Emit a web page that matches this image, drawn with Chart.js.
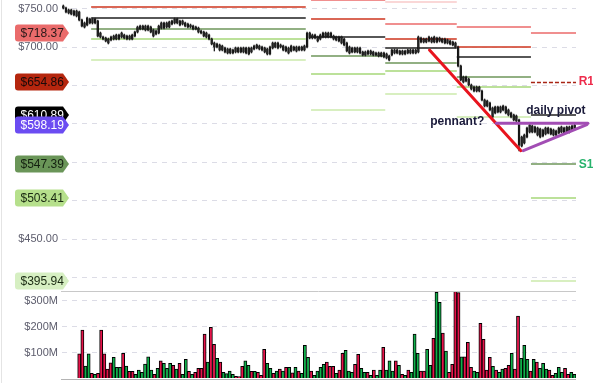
<!DOCTYPE html>
<html><head><meta charset="utf-8">
<script src="https://cdn.jsdelivr.net/npm/chart.js@4.4.0/dist/chart.umd.min.js"></script>
<style>
html,body{margin:0;padding:0;background:#fff;}
#wrap{position:relative;width:593px;height:383px;overflow:hidden;background:#fff;}
#pc{position:absolute;left:0;top:0;}
#vc{position:absolute;left:0;top:291px;}
#edge{position:absolute;left:1px;top:0;width:1px;height:383px;background:#e4e4e4;}
</style></head><body>
<div id="wrap"><canvas id="pc" width="593" height="291"></canvas><canvas id="vc" width="593" height="92"></canvas><div id="edge"></div></div>
<script>
// ---------- price candles ----------
const opens = [
753.4,750.8,748.2,748.2,746.9,746.9,745.6,735.2,731.3,728.6,
736.5,731.3,736.5,733.9,718.2,713.0,711.7,710.4,709.1,710.4,
710.4,715.6,713.0,715.6,714.3,710.4,715.6,714.3,719.5,723.4,
727.3,722.1,727.3,726.0,722.1,716.9,718.2,724.7,731.3,726.0,
726.0,729.9,731.3,736.5,733.9,733.9,731.3,729.9,728.6,727.3,
726.0,724.7,720.8,719.5,718.2,715.6,710.4,705.2,700.0,702.6,
701.3,698.7,697.4,692.2,696.1,693.5,698.7,693.5,698.7,698.7,
690.9,693.5,697.4,698.7,701.3,700.0,698.7,697.4,690.9,698.7,
705.2,698.7,702.6,701.3,700.0,698.7,694.8,700.0,694.8,700.0,
696.1,696.1,700.0,718.2,711.7,715.6,713.0,710.4,713.0,718.2,
713.0,718.2,714.3,713.0,713.0,713.0,710.4,705.2,700.0,693.5,
698.7,693.5,698.7,693.5,689.6,694.8,690.9,693.5,692.2,692.2,
688.3,692.2,690.9,688.3,689.6,696.1,692.2,694.8,690.9,694.8,
692.2,696.1,692.2,696.1,693.5,711.7,706.5,710.4,707.8,711.7,
706.5,711.7,707.8,710.4,710.4,709.1,707.8,706.5,705.2,700.0,
675.3,654.4,660.9,658.3,650.5,647.9,642.7,647.9,642.7,631.0,
623.2,627.1,620.6,614.1,615.4,621.9,618.0,621.9,618.0,614.1,
611.5,610.2,605.0,571.1,575.0,582.8,589.3,597.1,589.3,594.5,
593.2,584.1,586.7,594.5,593.2,591.9,585.4,588.0,589.3,594.5,
589.3,595.8,591.9,593.2];
const closes = [
750.8,745.6,744.3,743.0,741.7,740.4,735.2,727.3,726.0,737.8,
731.3,736.5,731.3,714.3,713.0,710.4,707.8,705.2,713.0,714.3,
715.6,710.4,718.2,711.7,710.4,714.3,710.4,719.5,726.0,727.3,
723.4,727.3,722.1,719.5,714.3,720.8,727.3,731.3,724.7,731.3,
732.6,733.9,736.5,731.3,728.6,729.9,727.3,726.0,726.0,723.4,
723.4,719.5,718.2,714.3,713.0,710.4,703.9,700.0,703.9,696.1,
696.1,693.5,692.2,697.4,692.2,698.7,693.5,698.7,693.5,692.2,
698.7,698.7,701.3,702.6,697.4,696.1,693.5,690.9,700.0,705.2,
700.0,705.2,700.0,696.1,694.8,692.2,701.3,696.1,700.0,696.1,
700.0,701.3,718.2,711.7,715.6,711.7,707.8,715.6,718.2,713.0,
718.2,713.0,710.4,709.1,707.8,705.2,702.6,694.8,692.2,698.7,
693.5,698.7,692.2,689.6,693.5,690.9,694.8,689.6,689.6,688.3,
692.2,687.0,685.7,683.1,696.1,692.2,696.1,690.9,694.8,690.9,
696.1,692.2,696.1,692.2,713.0,706.5,710.4,706.5,713.0,706.5,
713.0,706.5,711.7,706.5,705.2,705.2,703.9,702.6,700.0,675.3,
657.0,660.9,655.7,650.5,645.3,642.7,647.9,642.7,631.0,623.2,
629.7,618.0,608.9,621.9,621.9,615.4,623.2,614.1,611.5,608.9,
605.0,603.7,572.4,582.8,585.4,594.5,598.4,589.3,595.8,585.4,
582.8,591.9,594.5,588.0,586.7,585.4,590.6,594.5,595.8,588.0,
595.8,589.3,597.1,598.19];
const highs = [
754.7,752.1,749.5,749.5,748.2,748.2,746.9,736.5,732.6,739.1,
737.8,737.8,737.8,735.2,719.5,714.3,713.0,711.7,714.3,715.6,
716.9,716.9,719.5,716.9,715.6,715.6,716.9,720.8,727.3,728.6,
728.6,728.6,728.6,727.3,723.4,722.1,728.6,732.6,732.6,732.6,
733.9,735.2,737.8,737.8,735.2,735.2,732.6,731.3,729.9,728.6,
727.3,726.0,722.1,720.8,719.5,716.9,711.7,706.5,705.2,703.9,
702.6,700.0,698.7,698.7,697.4,700.0,700.0,700.0,700.0,700.0,
700.0,700.0,702.6,703.9,702.6,701.3,700.0,698.7,701.3,706.5,
706.5,706.5,703.9,702.6,701.3,700.0,702.6,701.3,701.3,701.3,
701.3,702.6,719.5,719.5,716.9,716.9,714.3,716.9,719.5,719.5,
719.5,719.5,715.6,714.3,714.3,714.3,711.7,706.5,701.3,700.0,
700.0,700.0,700.0,694.8,694.8,696.1,696.1,694.8,693.5,693.5,
693.5,693.5,692.2,689.6,697.4,697.4,697.4,696.1,696.1,696.1,
697.4,697.4,697.4,697.4,714.3,713.0,711.7,711.7,714.3,713.0,
714.3,713.0,713.0,711.7,711.7,710.4,709.1,707.8,706.5,701.3,
676.6,662.2,662.2,659.6,651.8,649.2,649.2,649.2,644.0,632.3,
631.0,628.4,621.9,623.2,623.2,623.2,624.5,623.2,619.3,615.4,
612.8,611.5,606.3,584.1,586.7,595.8,599.8,598.4,597.1,595.8,
594.5,593.2,595.8,595.8,594.5,593.2,591.9,595.8,597.1,595.8,
597.1,597.1,598.4,599.8];
const lows = [
749.5,744.3,743.0,741.7,740.4,739.1,733.9,726.0,724.7,727.3,
729.9,729.9,729.9,713.0,711.7,709.1,706.5,703.9,707.8,709.1,
709.1,709.1,711.7,710.4,709.1,709.1,709.1,713.0,718.2,722.1,
722.1,720.8,720.8,718.2,713.0,715.6,716.9,723.4,723.4,724.7,
724.7,728.6,729.9,729.9,727.3,728.6,726.0,724.7,724.7,722.1,
722.1,718.2,716.9,713.0,711.7,709.1,702.6,694.8,698.7,694.8,
694.8,692.2,690.9,690.9,690.9,692.2,692.2,692.2,692.2,690.9,
689.6,692.2,696.1,697.4,696.1,694.8,692.2,689.6,689.6,697.4,
698.7,697.4,698.7,694.8,693.5,690.9,693.5,694.8,693.5,694.8,
694.8,694.8,698.7,710.4,710.4,710.4,706.5,709.1,711.7,711.7,
711.7,711.7,709.1,707.8,706.5,703.9,701.3,693.5,690.9,692.2,
692.2,692.2,690.9,688.3,688.3,689.6,689.6,688.3,688.3,687.0,
687.0,685.7,684.4,681.8,688.3,690.9,690.9,689.6,689.6,689.6,
690.9,690.9,690.9,690.9,692.2,705.2,705.2,705.2,706.5,705.2,
705.2,705.2,706.5,705.2,703.9,703.9,702.6,701.3,698.7,674.0,
655.7,653.1,654.4,649.2,644.0,641.4,641.4,641.4,629.7,621.9,
621.9,616.7,607.6,612.8,614.1,614.1,616.7,612.8,610.2,607.6,
603.7,602.4,564.6,569.8,573.7,581.5,588.0,588.0,588.0,584.1,
581.5,582.8,585.4,586.7,585.4,584.1,584.1,586.7,588.0,586.7,
588.0,588.0,590.6,591.9];

// ---------- pivot levels per session (candle index ranges) ----------
const segStart = [11, 94, 122, 149, 177];
const segEnd   = [91, 121, 148, 176, 193];
const levR3 = [null, null, 759.0, null, null];
const levR2 = [null, 761.0, 729.6, 726.4, 718.37];
const levR1 = [751.7, 736.5, 710.0, 700.4, 654.86];
const levP  = [738.2, 713.0, 699.0, 687.4, 610.89];
const levS1 = [723.4, 688.7, 679.6, 661.3, 547.39];
const levS2 = [710.4, 665.2, 668.8, 648.3, 503.41];
const levS3 = [682.7, 617.6, 638.4, 608.9, 395.94];

// ---------- drawn annotations (candle index, price) ----------
const redTrend   = [[138.2, 696.1], [172.7, 565.0]];
const pennantTop = [[163.4, 600.7], [198.0, 600.7]];
const pennantBot = [[173.6, 565.0], [197.6, 599.0]];
const notes = [
  {text: 'pennant?', x: 138.5, y: 598.4},
  {text: 'daily pivot', x: 174.7, y: 613.4}
];

// ---------- axis ticks ----------
const priceTicksHidden = [400, 500, 550, 600, 650];

// ---------- volume (millions $) ----------
const volumes = [null,null,null,null,null,
95,187,48,95,20,16,20,187,95,36,61,82,43,43,97,48,28,28,16,33,24,56,84,33,16,39,68,59,39,59,51,36,59,16,74,28,16,
24,39,39,172,63,198,132,78,63,24,19,29,16,8,7,47,68,51,28,28,24,12,113,59,39,20,29,36,29,43,43,22,43,29,20,128,82,29,12,29,43,55,63,47,47,20,33,97,109,29,24,55,93,39,24,24,12,33,12,33,120,33,
68,29,68,51,16,12,33,24,172,97,29,29,113,51,155,333,294,175,106,24,55,338,332,84,84,140,43,29,24,213,151,33,82,47,33,24,36,39,51,97,36,241,78,128,74,29,74,63,39,59,36,33,12,20,43,24,39,16,24,16];
const volSide = ['','','','','',
'd','d','u','u','d','u','d','d','d','d','d','u','u','u','d','u','d','d','u','u','u','u','u','u','d','u','d','u','u','u','d','u','d','u','u','d','u',
'd','d','d','d','u','d','d','u','d','u','u','u','u','d','d','d','u','u','d','u','d','d','d','u','u','d','u','d','u','d','u','d','u','d','u','u','u','d','u','u','u','u','d','d','d','u','d','d','u','u','u','d','d','u','u','d','u','d','u','u','d','u',
'u','u','d','u','d','u','d','u','u','u','d','d','u','u','d','u','u','d','u','d','d','d','d','u','d','d','d','u','u','d','d','d','d','u','d','u','u','d','d','u','d','d','u','u','u','d','u','d','u','u','u','d','d','u','u','u','d','d','u','u'];

const FONT = '"Liberation Sans", Arial, sans-serif';

const levelDefs = [
  {vals: levR3, color: 'rgba(240,140,140,0.35)'},
  {vals: levR2, color: 'rgba(235,105,105,0.75)'},
  {vals: levR1, color: 'rgba(212,76,56,0.85)', dashLast: true},
  {vals: levP,  color: 'rgba(45,45,45,0.8)'},
  {vals: levS1, color: 'rgba(110,150,90,0.75)'},
  {vals: levS2, color: 'rgba(165,215,120,0.75)'},
  {vals: levS3, color: 'rgba(190,228,150,0.6)'}
];

const levelsPlugin = {
  id: 'levels',
  beforeDatasetsDraw(chart) {
    const {ctx, scales: {x, y}} = chart;
    const half = (x.getPixelForValue(1) - x.getPixelForValue(0)) / 2;
    ctx.save();
    levelDefs.forEach(def => {
      def.vals.forEach((v, s) => {
        if (v == null) return;
        const x0 = x.getPixelForValue(segStart[s]) - half;
        const x1 = x.getPixelForValue(segEnd[s]) + half;
        const py = Math.round(y.getPixelForValue(v));
        ctx.beginPath();
        if (def.dashLast && s === segStart.length - 1) {
          ctx.setLineDash([4, 2]); ctx.lineWidth = 1.3; ctx.strokeStyle = '#a82414';
          ctx.moveTo(x0, py + 0.5); ctx.lineTo(x1, py + 0.5);
        } else {
          ctx.setLineDash([]); ctx.lineWidth = 2; ctx.strokeStyle = def.color;
          ctx.moveTo(x0, py); ctx.lineTo(x1, py);
        }
        ctx.stroke();
      });
    });
    ctx.restore();
  }
};

function pt(chart, p) {
  return [chart.scales.x.getPixelForValue(p[0]), chart.scales.y.getPixelForValue(p[1])];
}

const annotPlugin = {
  id: 'annot',
  afterDatasetsDraw(chart) {
    const {ctx, scales: {x, y}} = chart;
    ctx.save();
    ctx.lineCap = 'round';
    let a = pt(chart, redTrend[0]), b = pt(chart, redTrend[1]);
    ctx.strokeStyle = '#e8141e'; ctx.lineWidth = 3;
    ctx.beginPath(); ctx.moveTo(a[0], a[1]); ctx.lineTo(b[0], b[1]); ctx.stroke();
    ctx.strokeStyle = '#a24db4'; ctx.lineWidth = 3;
    a = pt(chart, pennantTop[0]); b = pt(chart, pennantTop[1]);
    ctx.beginPath(); ctx.moveTo(a[0], a[1]); ctx.lineTo(b[0], b[1]); ctx.stroke();
    a = pt(chart, pennantBot[0]); b = pt(chart, pennantBot[1]);
    ctx.beginPath(); ctx.moveTo(a[0], a[1]); ctx.lineTo(b[0], b[1]); ctx.stroke();
    ctx.font = 'bold 12px ' + FONT;
    ctx.fillStyle = '#1a1a3a';
    ctx.textBaseline = 'alphabetic'; ctx.textAlign = 'left';
    notes.forEach(n => ctx.fillText(n.text, x.getPixelForValue(n.x), y.getPixelForValue(n.y)));
    const last = segStart.length - 1;
    const lx = x.getPixelForValue(segEnd[last]) + 4;
    ctx.textBaseline = 'middle';
    ctx.fillStyle = '#ee2c4c';
    ctx.fillText('R1', lx, y.getPixelForValue(levR1[last]));
    ctx.fillStyle = '#27b36c';
    ctx.fillText('S1', lx, y.getPixelForValue(levS1[last]));
    ctx.restore();
  }
};

function drawTag(ctx, yp, text, bg, fg) {
  const l = 15, r = 63, tip = 69, h = 17, t = yp - h / 2;
  ctx.fillStyle = bg;
  ctx.beginPath();
  ctx.moveTo(l + 3, t);
  ctx.lineTo(r, t);
  ctx.lineTo(tip, yp);
  ctx.lineTo(r, t + h);
  ctx.lineTo(l + 3, t + h);
  ctx.quadraticCurveTo(l, t + h, l, t + h - 3);
  ctx.lineTo(l, t + 3);
  ctx.quadraticCurveTo(l, t, l + 3, t);
  ctx.closePath();
  ctx.fill();
  ctx.fillStyle = fg;
  ctx.font = '12px ' + FONT;
  ctx.textAlign = 'left'; ctx.textBaseline = 'middle';
  ctx.fillText(text, 20.5, yp + 0.5);
}

const tagPlugin = {
  id: 'tags',
  afterDraw(chart) {
    const {ctx, scales: {y}} = chart;
    const last = segStart.length - 1;
    const cur = closes[closes.length - 1];
    const fmt = v => '$' + v.toFixed(2);
    ctx.save();
    const items = [
      [levR2[last], '#ea6b6b', '#2a1a1a'],
      [levR1[last], '#b5260e', '#1a0a0a'],
      [levP[last], '#000000', '#ffffff'],
      [levS1[last], '#6a9558', '#142010'],
      [levS2[last], '#b6e08c', '#1a2a12'],
      [levS3[last], '#d6efc2', '#1a2a12'],
      [cur, '#6b4cf2', '#ffffff']
    ];
    items.forEach(it => drawTag(ctx, Math.round(y.getPixelForValue(it[0])), fmt(it[0]), it[1], it[2]));
    ctx.restore();
  }
};

new Chart(document.getElementById('pc'), {
  type: 'bar',
  data: {
    labels: opens.map((_, i) => String(i)),
    datasets: [
      {data: lows.map((l, i) => [l, highs[i]]), backgroundColor: '#222', barThickness: 0.7, grouped: false},
      {data: opens.map((o, i) => [o, closes[i]]), backgroundColor: '#000', barThickness: 1.6, grouped: false}
    ]
  },
  options: {
    responsive: false, animation: false, devicePixelRatio: 1,
    layout: {padding: {left: 0, right: 17, top: 0, bottom: 0}},
    plugins: {legend: {display: false}, tooltip: {enabled: false}},
    scales: {
      x: {display: false, offset: true},
      y: {
        min: 382.3, max: 761.2,
        afterFit(s) { s.width = 62; s.paddingTop = 0; s.paddingBottom = 0; },
        border: {display: false, dash: [5, 5]},
        grid: {color: '#dcdce6', drawTicks: false, lineWidth: 1},
        ticks: {
          stepSize: 50, includeBounds: false, padding: 4, color: '#5c5c6c',
          font: {family: FONT, size: 11},
          callback: v => priceTicksHidden.includes(v) ? '' : '$' + v.toFixed(2)
        }
      }
    }
  },
  plugins: [levelsPlugin, annotPlugin, tagPlugin]
});

const volFramePlugin = {
  id: 'volFrame',
  afterDraw(chart) {
    const {ctx, chartArea: ca} = chart;
    ctx.save();
    ctx.strokeStyle = '#c8c8c8'; ctx.lineWidth = 1;
    ctx.beginPath(); ctx.moveTo(61, ca.top + 0.5); ctx.lineTo(ca.right, ca.top + 0.5); ctx.stroke();
    ctx.strokeStyle = '#b4b4b4';
    ctx.beginPath(); ctx.moveTo(61, Math.round(ca.bottom) + 0.5); ctx.lineTo(ca.right, Math.round(ca.bottom) + 0.5); ctx.stroke();
    ctx.restore();
  }
};

new Chart(document.getElementById('vc'), {
  type: 'bar',
  data: {
    labels: volumes.map((_, i) => String(i)),
    datasets: [{
      data: volumes,
      backgroundColor: volSide.map(s => s === 'u' ? '#10b04a' : '#e6134a'),
      borderColor: '#000', borderWidth: 1,
      barPercentage: 1, categoryPercentage: 1
    }]
  },
  options: {
    responsive: false, animation: false, devicePixelRatio: 1,
    layout: {padding: {left: 0, right: 17, top: 0, bottom: 4.5}},
    plugins: {legend: {display: false}, tooltip: {enabled: false}},
    scales: {
      x: {display: false, offset: true},
      y: {
        min: 0, max: 338,
        afterFit(s) { s.width = 62; s.paddingTop = 0; s.paddingBottom = 0; },
        border: {display: false, dash: [5, 5]},
        grid: {color: c => c.tick && c.tick.value === 0 ? 'rgba(0,0,0,0)' : '#dcdce6', drawTicks: false},
        ticks: {
          stepSize: 100, includeBounds: false, padding: 4, color: '#5c5c6c',
          font: {family: FONT, size: 11},
          callback: v => v === 0 ? '' : '$' + v + 'M'
        }
      }
    }
  },
  plugins: [volFramePlugin]
});
</script>
</body></html>
